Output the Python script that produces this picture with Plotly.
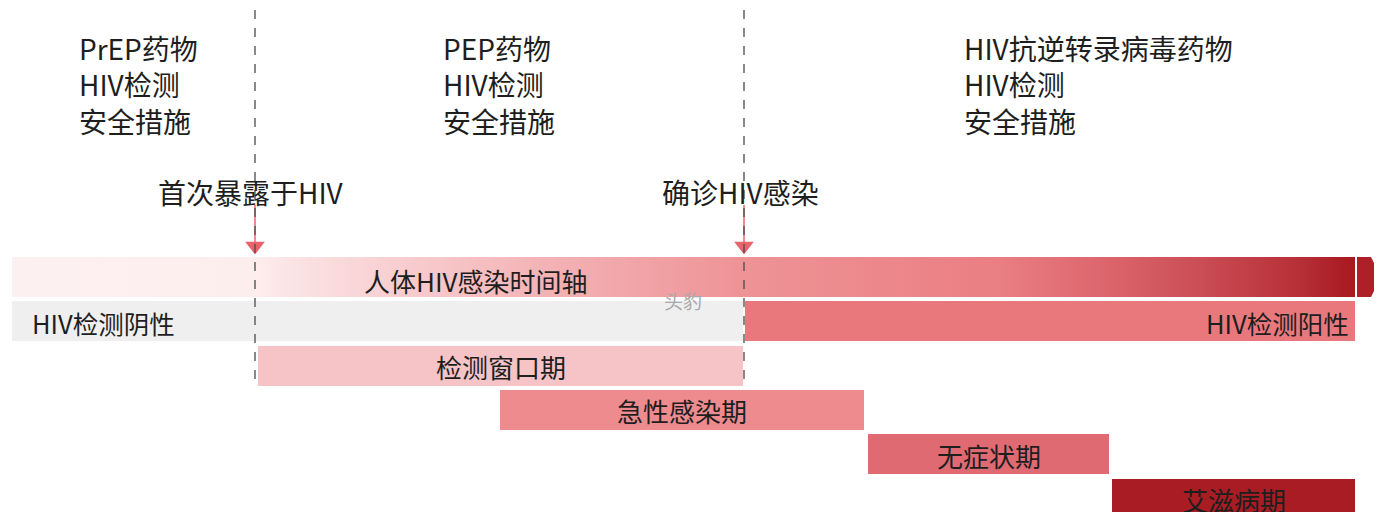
import plotly.graph_objects as go

# ---------------- data ----------------
# time axis (arbitrary units along the infection timeline)
timeline_start = 12
timeline_end = 1355
exposure_t = 255
diagnosis_t = 744

event_labels = ["首次暴露于HIV", "确诊HIV感染"]
event_times = [exposure_t, diagnosis_t]

top_blocks = [
    ["PrEP药物", "HIV检测", "安全措施"],
    ["PEP药物", "HIV检测", "安全措施"],
    ["HIV抗逆转录病毒药物", "HIV检测", "安全措施"],
]
top_block_starts = [77, 441, 962]

test_labels = ["HIV检测阴性", "HIV检测阳性"]
test_starts = [12, 745]
test_ends = [743, 1355]
test_colors = ["#efefef", "#e9787d"]

stage_labels = ["检测窗口期", "急性感染期", "无症状期", "艾滋病期"]
stage_starts = [258, 500, 868, 1112]
stage_ends = [743, 864, 1109, 1355]
stage_colors = ["#f6c4c6", "#ee8b8f", "#e06a71", "#aa1c23"]

gradient_stops = [0.0, 0.181, 0.205, 0.28, 0.40, 0.545, 0.736, 0.81, 0.885, 0.959, 1.0]
gradient_colors = ["#fdf0f0", "#fdeeee", "#fbe4e5", "#f8d0d2", "#f3b2b5", "#ee9396",
                   "#ea7e83", "#dd676e", "#cb4d55", "#b72f37", "#a8181f"]

# ---------------- layout helpers ----------------
W, H = 1382, 512
PAD = 8  # page body margin offset
FONT = "Noto Sans CJK SC"
TXT = "#1e1e1e"
row_h = 40
timeline_y = 277
row_step = 44.3


def row_y(k):
    return timeline_y + row_step * (k + 1)


fig = go.Figure()

# timeline body with gradient
y0, y1 = timeline_y - row_h / 2, timeline_y + row_h / 2
fig.add_trace(go.Scatter(
    x=[timeline_start, timeline_end, timeline_end, timeline_start, timeline_start],
    y=[y0, y0, y1, y1, y0],
    mode="lines", line=dict(width=0), fill="toself",
    fillgradient=dict(type="horizontal",
                      colorscale=[[s, c] for s, c in zip(gradient_stops, gradient_colors)],
                      start=timeline_start, stop=timeline_end),
    hoverinfo="skip", showlegend=False))

# test result row
fig.add_trace(go.Bar(
    orientation="h", base=test_starts,
    x=[e - s for s, e in zip(test_starts, test_ends)],
    y=[row_y(0)] * 2, width=row_h, marker=dict(color=test_colors, line=dict(width=0)),
    hoverinfo="skip", showlegend=False))

# stage rows
fig.add_trace(go.Bar(
    orientation="h", base=stage_starts,
    x=[e - s for s, e in zip(stage_starts, stage_ends)],
    y=[row_y(k + 1) for k in range(len(stage_labels))], width=row_h,
    marker=dict(color=stage_colors, line=dict(width=0)),
    hoverinfo="skip", showlegend=False))

shapes = []
annotations = []

# arrow head of the timeline
hx0 = timeline_end + 2
shapes.append(dict(
    type="path", xref="x", yref="y", layer="above",
    path=(f"M{hx0},{y0} L{hx0 + 14},{y0} L{W - 1},{timeline_y} "
          f"L{hx0 + 14},{y1} L{hx0},{y1} Z"),
    fillcolor="#ae1f28", line=dict(width=0)))

# dashed vertical lines and red arrows for events
for lab, t in zip(event_labels, event_times):
    shapes.append(dict(type="line", x0=t, x1=t, y0=205, y1=245, xref="x", yref="y",
                       line=dict(color="#e8636b", width=1.5)))
    shapes.append(dict(type="line", x0=t, x1=t, y0=10, y1=388, xref="x", yref="y",
                       line=dict(color="#4a4a4a", width=1.3, dash="dash")))
    annotations.append(dict(x=t - 4, y=192, text=lab, showarrow=False, xanchor="center",
                            yanchor="middle", font=dict(size=28, color=TXT, family=FONT)))
fig.add_trace(go.Scatter(
    x=event_times, y=[246] * len(event_times), mode="markers",
    marker=dict(symbol="triangle-down", size=17, color="#e8636b", line=dict(width=0)),
    hoverinfo="skip", showlegend=False))

# top text blocks (one multi-line text each)
for lines, x in zip(top_blocks, top_block_starts):
    annotations.append(dict(x=x, y=84.5, text="<br>".join(lines), showarrow=False,
                            xanchor="left", yanchor="middle", align="left",
                            font=dict(size=28, color=TXT, family=FONT)))

# timeline label
annotations.append(dict(x=476, y=timeline_y + 3, text="人体HIV感染时间轴", showarrow=False,
                        xanchor="center", yanchor="middle",
                        font=dict(size=26, color=TXT, family=FONT)))
# watermark
annotations.append(dict(x=683, y=300, text="头豹", showarrow=False, xanchor="center",
                        yanchor="middle", font=dict(size=19, color="#a9a9a9", family=FONT)))

# test labels
annotations.append(dict(x=test_starts[0] + 18, y=row_y(0) + 1, text=test_labels[0],
                        showarrow=False, xanchor="left", yanchor="middle",
                        font=dict(size=25.5, color=TXT, family=FONT)))
annotations.append(dict(x=test_ends[1] - 4, y=row_y(0) + 1, text=test_labels[1],
                        showarrow=False, xanchor="right", yanchor="middle",
                        font=dict(size=25.5, color=TXT, family=FONT)))

# stage labels
for k, (lab, s, e) in enumerate(zip(stage_labels, stage_starts, stage_ends)):
    annotations.append(dict(x=(s + e) / 2, y=row_y(k + 1) + 1, text=lab, showarrow=False,
                            xanchor="center", yanchor="middle",
                            font=dict(size=26, color=TXT, family=FONT)))

fig.update_layout(
    width=W - PAD, height=H - PAD, margin=dict(l=0, r=0, t=0, b=0),
    paper_bgcolor="white", plot_bgcolor="white",
    xaxis=dict(range=[PAD, W], visible=False, fixedrange=True),
    yaxis=dict(range=[H, PAD], visible=False, fixedrange=True),
    bargap=0, barmode="overlay",
    shapes=shapes, annotations=annotations,
)

fig.write_html("out.html")
